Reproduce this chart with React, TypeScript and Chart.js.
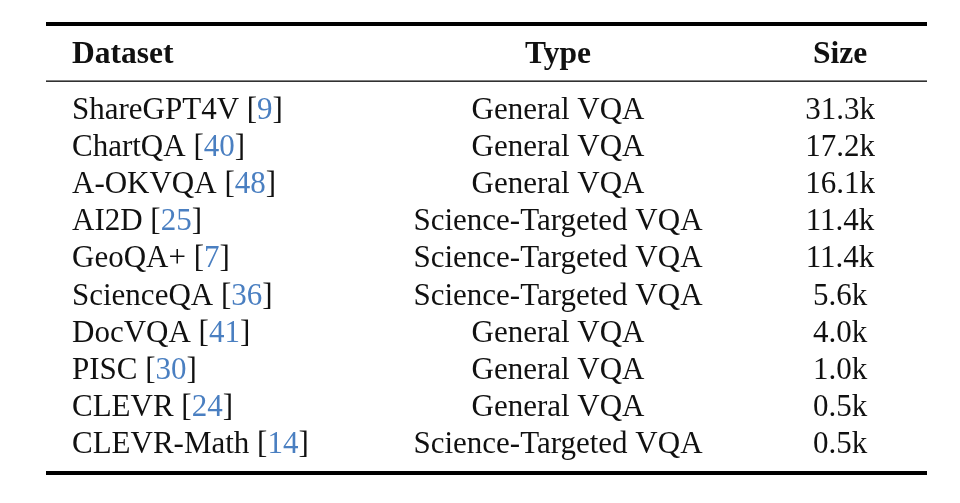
import React, { useEffect, useRef } from "react";
import { Chart, registerables } from "chart.js";

Chart.register(...registerables);

const headers = ["Dataset", "Type", "Size"];
const datasetNames = ["ShareGPT4V", "ChartQA", "A-OKVQA", "AI2D", "GeoQA+", "ScienceQA", "DocVQA", "PISC", "CLEVR", "CLEVR-Math"];
const refs = ["9", "40", "48", "25", "7", "36", "41", "30", "24", "14"];
const types = ["General VQA", "General VQA", "General VQA", "Science-Targeted VQA", "Science-Targeted VQA", "Science-Targeted VQA", "General VQA", "General VQA", "General VQA", "Science-Targeted VQA"];
const sizeLabels = ["31.3k", "17.2k", "16.1k", "11.4k", "11.4k", "5.6k", "4.0k", "1.0k", "0.5k", "0.5k"];
const sizeValues = [31.3, 17.2, 16.1, 11.4, 11.4, 5.6, 4.0, 1.0, 0.5, 0.5];

const FONT = "'Liberation Serif', 'Times New Roman', serif";
const TEXT = "#111111";
const BLUE = "#4a7fc1";

const tablePlugin = {
  id: "tablePlugin",
  afterDraw(chart: any) {
    const ctx = chart.ctx as CanvasRenderingContext2D;
    const y = chart.scales.y;
    const colX = { left: 72, type: 558, size: 840 };
    const ruleL = 46, ruleR = 927;
    ctx.save();
    // rules
    ctx.fillStyle = "#000";
    ctx.fillRect(ruleL, 22, ruleR - ruleL, 4);
    ctx.fillRect(ruleL, 80.5, ruleR - ruleL, 1.3);
    ctx.fillRect(ruleL, 471, ruleR - ruleL, 4);
    // header
    ctx.fillStyle = TEXT;
    ctx.textBaseline = "alphabetic";
    ctx.font = `bold 31.5px ${FONT}`;
    ctx.textAlign = "left";
    ctx.fillText(headers[0], colX.left, 63);
    ctx.textAlign = "center";
    ctx.fillText(headers[1], colX.type, 63);
    ctx.fillText(headers[2], colX.size, 63);
    // rows
    ctx.font = `31px ${FONT}`;
    datasetNames.forEach((name, i) => {
      const py = y.getPixelForValue(i);
      ctx.textAlign = "left";
      let x = colX.left;
      const pre = name + " [";
      ctx.fillStyle = TEXT;
      ctx.fillText(pre, x, py);
      x += ctx.measureText(pre).width;
      ctx.fillStyle = BLUE;
      ctx.fillText(refs[i], x, py);
      x += ctx.measureText(refs[i]).width;
      ctx.fillStyle = TEXT;
      ctx.fillText("]", x, py);
      ctx.textAlign = "center";
      ctx.fillText(types[i], colX.type, py);
      ctx.fillText(sizeLabels[i], colX.size, py);
    });
    ctx.restore();
  },
};

export default function App() {
  const ref = useRef<HTMLCanvasElement>(null);
  useEffect(() => {
    document.body.style.margin = "0";
    document.body.style.background = "#fff";
    const chart = new Chart(ref.current!, {
      type: "bar",
      data: {
        labels: datasetNames,
        datasets: [{ data: sizeValues, backgroundColor: "rgba(0,0,0,0)", borderWidth: 0 }],
      },
      options: {
        indexAxis: "y",
        responsive: false,
        animation: false,
        layout: { padding: { top: 119, bottom: 50, left: 0, right: 0 } },
        plugins: { legend: { display: false }, tooltip: { enabled: false } },
        scales: {
          x: { display: false, min: 0, max: 40 },
          y: { type: "category", display: false, offset: false },
        },
      },
      plugins: [tablePlugin],
    });
    return () => chart.destroy();
  }, []);
  return (
    <div style={{ width: 960, height: 503, background: "#fff" }}>
      <canvas ref={ref} width={960} height={503} style={{ display: "block" }} />
    </div>
  );
}
